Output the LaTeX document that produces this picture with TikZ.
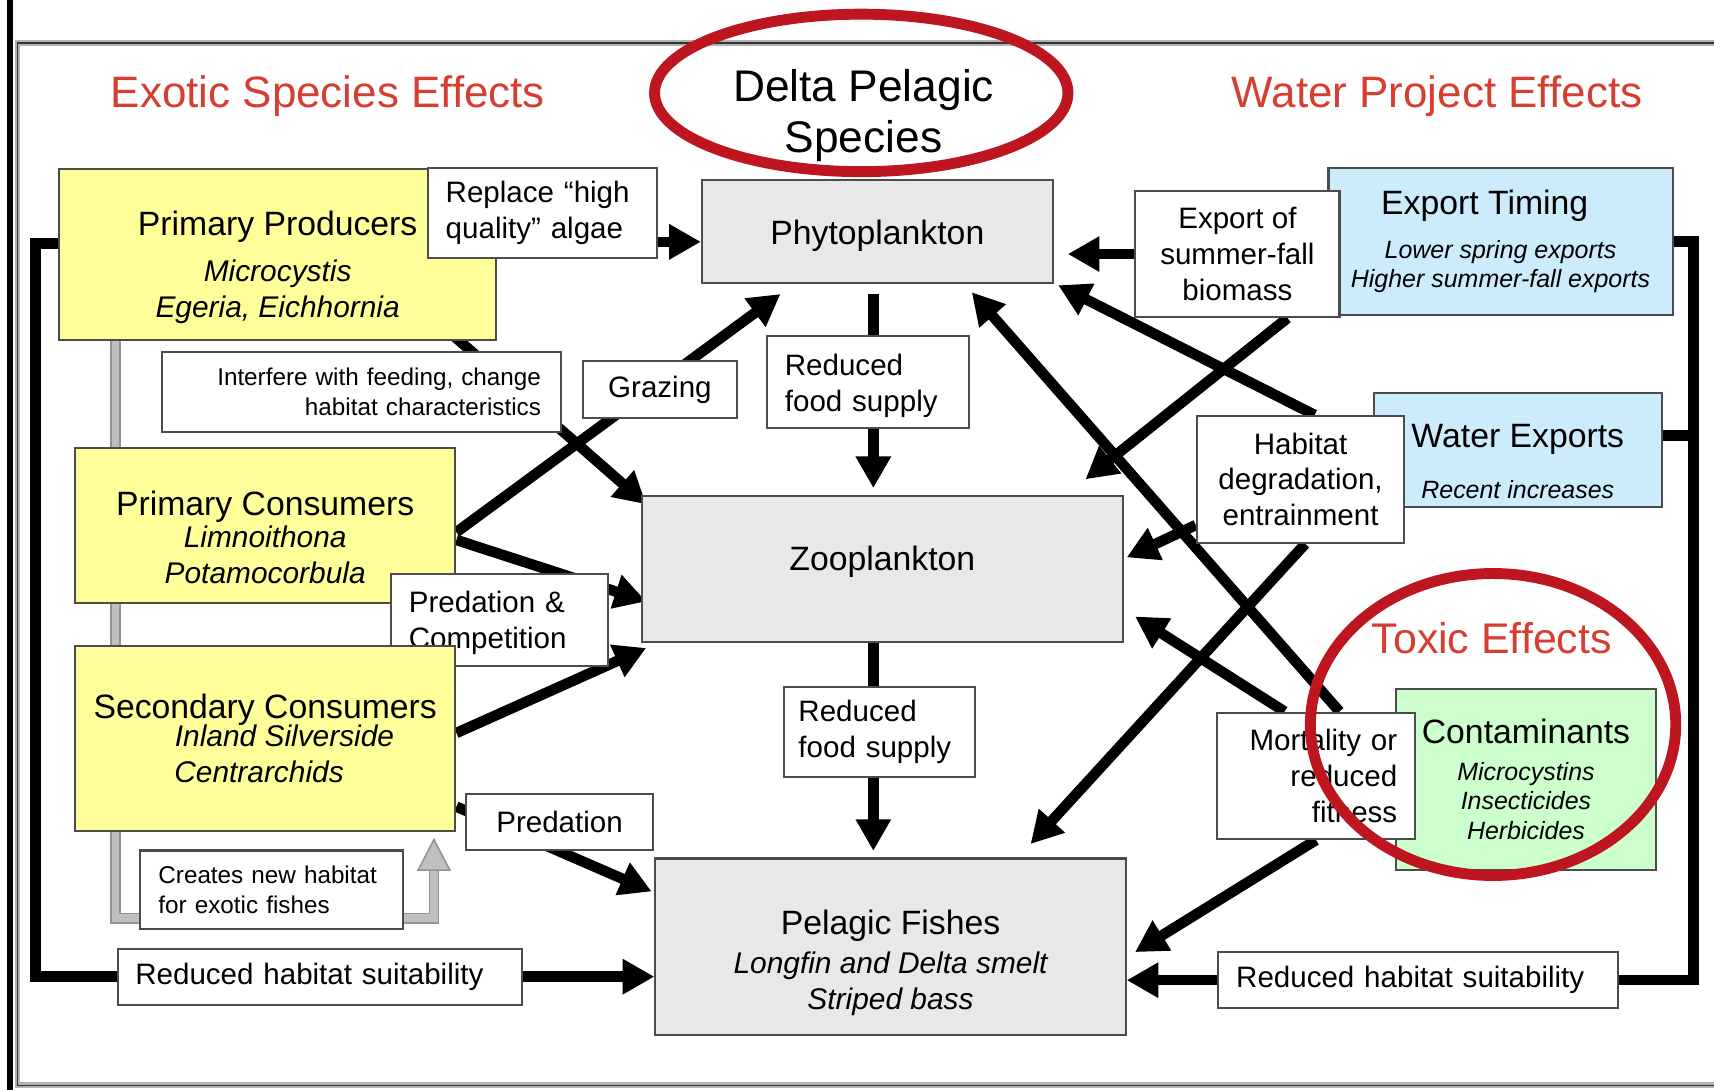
\documentclass[tikz,border=0pt]{standalone}
\usepackage{fontspec}
\setmainfont{Liberation Sans}
\usetikzlibrary{arrows.meta,backgrounds}
\definecolor{prodyellow}{RGB}{255,255,153}
\definecolor{planktongray}{RGB}{232,232,232}
\definecolor{exportblue}{RGB}{204,236,252}
\definecolor{toxgreen}{RGB}{204,255,204}
\definecolor{headred}{RGB}{214,62,50}
\definecolor{ringred}{RGB}{190,22,32}
\newcommand{\subA}[1]{{\fontsize{8.5}{10}\selectfont\itshape #1}}
\newcommand{\subB}[1]{{\fontsize{7.1}{8}\selectfont\itshape #1}}
\newcommand{\padtop}[1]{\rule{0pt}{#1}}

\begin{document}
\begin{tikzpicture}[x=0.010931cm,y=-0.010931cm,
  box/.style={draw=black!70,line width=0.6pt,inner sep=0pt,align=center},
  ybox/.style={box,fill=prodyellow,font=\fontsize{9.6}{10.3}\selectfont},
  gbox/.style={box,fill=planktongray,font=\fontsize{9.6}{10.3}\selectfont},
  bbox/.style={box,fill=exportblue,font=\fontsize{9.6}{8.2}\selectfont},
  lbl/.style={box,fill=white,font=\fontsize{8.4}{10.2}\selectfont},
  slbl/.style={box,fill=white,font=\fontsize{6.9}{8.4}\selectfont},
  effecttitle/.style={text=headred,font=\fontsize{12.5}{15}\selectfont},
  lnk/.style={line width=3pt},
  arr/.style={lnk,-{Triangle[length=9pt,width=9.5pt]}},
  stip/.style={draw=gray!85,line width=0.45pt,double=gray!50,double distance=2.2pt},
  stiphead/.style={draw=gray!85,fill=gray!50,line width=0.45pt},
  ringline/.style={draw=ringred,line width=3.1pt}]
\useasboundingbox (0,0) rectangle (1568,997);

\node[ybox,minimum width=4.372cm,minimum height=1.705cm] (pp) at (254,233) {\padtop{14.4pt}Primary Producers\\[2.7pt]\subA{Microcystis}\\\subA{Egeria, Eichhornia}};
\node[lbl,text width=1.928cm,inner xsep=0.18cm,minimum height=0.9cm,align=left] (rep) at (496,194.7) {Replace “high\\quality” algae};
\node[gbox,minimum width=3.506cm,minimum height=1.028cm] (phy) at (802.6,212) {\padtop{9.4pt}Phytoplankton};
\node[bbox,minimum width=3.439cm,minimum height=1.471cm] (ext) at (1372.7,220.9) {Export Timing\hspace*{9pt}\\[4.3pt]\subB{Lower spring exports}\\\subB{Higher summer-fall exports}};
\node[lbl,minimum width=2.041cm,minimum height=1.259cm] (exb) at (1132,232.4) {Export of\\summer-fall\\biomass};
\node[slbl,text width=3.588cm,inner xsep=0.197cm,minimum height=0.803cm,align=right] (intf) at (330.7,358.5) {Interfere with feeding, change\\habitat characteristics};
\node[lbl,minimum width=1.537cm,minimum height=0.565cm] (graz) at (603.7,356.5) {Grazing};
\node[lbl,text width=1.662cm,inner xsep=0.18cm,minimum height=0.921cm,align=left] (rfs1) at (794.1,349.3) {\padtop{8.3pt}Reduced\\food supply};
\node[gbox,minimum width=4.81cm,minimum height=1.46cm] (zoo) at (807.2,520.9) {Zooplankton\rule[-6.4pt]{0pt}{6.4pt}};
\node[bbox,minimum width=2.875cm,minimum height=1.143cm] (wex) at (1388.5,411.7) {\padtop{13.1pt}Water Exports\\[6.2pt]\subB{Recent increases}};
\node[lbl,minimum width=2.074cm,minimum height=1.268cm] (hab) at (1189.8,438.6) {Habitat\\degradation,\\entrainment};
\node[ybox,minimum width=3.801cm,minimum height=1.55cm] (pcon) at (242.6,480.9) {\padtop{13.8pt}Primary Consumers\\[-1.3pt]\subA{Limnoithona}\\\subA{Potamocorbula}};
\node[lbl,text width=1.806cm,inner xsep=0.183cm,minimum height=0.916cm,align=left] (predc) at (456.7,567) {\padtop{7.7pt}Predation \&\\Competition};
\node[ybox,minimum width=3.801cm,minimum height=1.852cm] (scon) at (242.6,675.6) {Secondary Consumers\\[-2.2pt]\hspace*{11pt}\subA{Inland Silverside}\\\subA{Centrarchids}\hspace*{3.5pt}};
\node[lbl,minimum width=1.865cm,minimum height=0.561cm] (pred) at (511.9,752.3) {Predation};
\node[lbl,text width=1.62cm,inner xsep=0.141cm,minimum height=0.902cm,align=left] (rfs2) at (804.6,669.4) {Reduced\\food supply};
\node[slbl,text width=2.261cm,inner xsep=0.186cm,minimum height=0.782cm,align=left] (cnh) at (248.4,813.8) {Creates new habitat\\for exotic fishes};
\node[lbl,text width=3.692cm,inner xsep=0.175cm,minimum height=0.561cm,align=left] (rhs1) at (292.8,893.5) {Reduced habitat suitability};
\node[gbox,minimum width=4.7cm,minimum height=1.76cm] (pf) at (814.7,865.9) {\padtop{16.4pt}Pelagic Fishes\\[0.6pt]\subA{Longfin and Delta smelt}\\\subA{Striped bass}};
\node[box,fill=toxgreen,font=\fontsize{9.6}{8.4}\selectfont,minimum width=2.6cm,minimum height=1.806cm] (cont) at (1396,713) {Contaminants\\[1.9pt]\subB{Microcystins}\\\subB{Insecticides}\\\subB{Herbicides}};
\node[lbl,text width=1.624cm,inner xsep=0.175cm,minimum height=1.263cm,align=right] (mort) at (1203.9,709.7) {Mortality or\\reduced\\fitness};
\node[lbl,text width=3.634cm,inner xsep=0.185cm,minimum height=0.561cm,align=left] (rhs2) at (1297.2,896.7) {Reduced habitat suitability};

\node[effecttitle] (exotic) at (300,88) {Exotic Species Effects};
\node[effecttitle] (water) at (1314.6,88) {Water Project Effects};
\node[effecttitle,font=\fontsize{12.2}{14}\selectfont] (toxic) at (1364.6,584) {Toxic Effects};
\node[align=center,font=\fontsize{12.6}{14.6}\selectfont] (delta) at (790,105.5) {Delta Pelagic\\Species};

\coordinate (lcorner) at (32.5,893.5);
\coordinate (rcorner) at (1549,896.7);
\coordinate (newhab) at (397,796);

\begin{scope}[on background layer]
\draw[gray!60,line width=1.7pt] (1568,39.3) -- (16,39.3) -- (16,993) -- (1568,993);
\draw[black!80,line width=0.5pt] (1568,39.3) -- (16,39.3) -- (16,993) -- (1568,993);
\draw[line width=1.7pt] (9.1,0) -- (9.1,997);
\draw[stip] ([xshift=0.576cm]pp.south west) |- ([yshift=-0.286cm]cnh.west);
\draw[stip] ([yshift=-0.286cm]cnh.east) -| (newhab);
\filldraw[stiphead] (newhab) ++(-14.5,0) -- ++(14.5,-28) -- ++(14.5,28) -- cycle;
\draw[arr] ([yshift=-0.29cm]rep.east) -- ([yshift=-0.29cm]rep.east -| phy.west);
\draw[arr] (exb.west) -- ([xshift=0.14cm]exb.west -| phy.east);
\draw[lnk] ([yshift=0.11cm]pp.west) -| (lcorner) -- (rhs1.west);
\draw[arr] (rhs1.east) -- (rhs1.east -| pf.west);
\draw[lnk] (ext.east) -| (rcorner) -- (rhs2.east);
\draw[lnk] ([yshift=0.143cm]wex.east) -- ([yshift=0.143cm]wex.east -| rcorner);
\draw[arr] (rhs2.west) -- (rhs2.west -| pf.east);
\draw[arr] ([xshift=-0.04cm,yshift=-0.1cm]phy.south) -- ([xshift=-0.04cm,yshift=0.072cm]phy.south |- zoo.north);
\draw[arr] ([xshift=-0.04cm]phy.south |- zoo.south) -- ([xshift=-0.04cm,yshift=0.065cm]phy.south |- pf.north);
\draw[arr] ([xshift=-0.466cm,yshift=0.077cm]pp.south east) -- ([xshift=0.055cm,yshift=-0.09cm]zoo.north west);
\draw[arr] ([yshift=-0.065cm]pcon.east) -- ([xshift=0.796cm,yshift=-0.098cm]phy.south west);
\draw[arr] ([yshift=-0.143cm]pcon.east) -- ([xshift=0.055cm,yshift=-0.32cm]zoo.west);
\draw[arr] ([yshift=0.055cm]scon.east) -- ([xshift=0.055cm,yshift=-0.045cm]zoo.south west);
\draw[arr] ([yshift=-0.681cm]scon.east) -- ([xshift=-0.027cm,yshift=-0.34cm]pf.north west);
\draw[arr] ([xshift=0.5cm]exb.south) -- ([xshift=-0.385cm,yshift=0.16cm]zoo.north east);
\draw[arr] ([xshift=0.14cm]hab.north) -- ([xshift=0.044cm,yshift=-0.01cm]phy.south east);
\draw[arr] ([yshift=-0.456cm]hab.west) -- ([xshift=0.026cm,yshift=0.12cm]zoo.east);
\draw[arr] ([xshift=0.046cm]hab.south) -- ([xshift=-0.961cm,yshift=0.134cm]pf.north east);
\draw[arr] ([xshift=0.235cm]mort.north) -- ([xshift=0.944cm,yshift=-0.08cm]phy.south);
\draw[arr] ([xshift=-0.314cm]mort.north) -- ([xshift=0.11cm,yshift=0.27cm]zoo.south east);
\draw[arr] (mort.south) -- ([xshift=0.083cm,yshift=-0.056cm]pf.east);
\end{scope}

\draw[ringline] (787.9,85) ellipse [x radius=2.066cm,y radius=0.787cm];
\draw[ringline] (1365.9,662.8) ellipse [x radius=1.826cm,y radius=1.509cm];
\end{tikzpicture}
\end{document}
